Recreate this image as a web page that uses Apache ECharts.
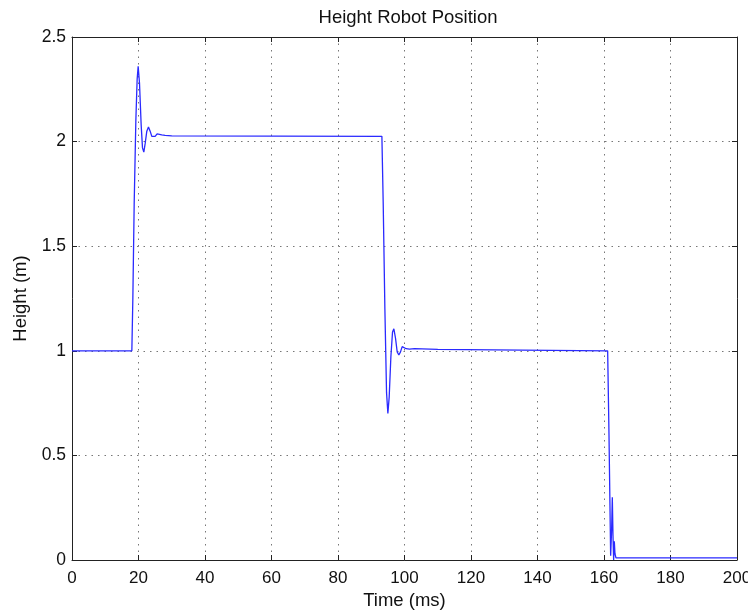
<!DOCTYPE html>
<html>
<head>
<meta charset="utf-8">
<script src="https://cdn.jsdelivr.net/npm/echarts@6/dist/echarts.min.js"></script>
<style>html,body{margin:0;padding:0;background:#fff;}#c{width:748px;height:612px;}</style>
</head>
<body>
<div id="c"></div>
<script>
// Time samples (ms)
var timeMs = [0, 18, 18.3, 18.7, 19.2, 19.6, 19.9, 20.3, 20.8, 21.2, 21.6, 22.0, 22.5, 23.0, 23.5, 24.0, 24.5, 25.0, 25.6, 26.2, 27, 28, 30,
  93.2, 93.6, 94.1, 94.6, 95.0, 95.4, 95.9, 96.4, 96.8, 97.3, 97.8, 98.3, 98.8, 99.3, 99.9, 100.5, 101.5, 103, 110,
  161.1, 161.5, 162.0, 162.3, 162.5, 162.7, 162.9, 163.1, 163.3, 163.6, 165, 200];
// Height values (m)
var heightM = [1.0, 1.0, 1.25, 1.7, 2.1, 2.3, 2.36, 2.28, 2.08, 1.97, 1.95, 1.99, 2.05, 2.07, 2.05, 2.025, 2.018, 2.025, 2.037, 2.038, 2.032, 2.03, 2.027,
  2.025, 1.7, 1.2, 0.8, 0.70, 0.78, 0.97, 1.09, 1.105, 1.06, 0.995, 0.98, 0.995, 1.02, 1.018, 1.01, 1.008, 1.01, 1.007,
  1.0, 0.6, 0.02, 0.15, 0.30, 0.12, 0.0, 0.09, 0.03, 0.01, 0.01, 0.01];
var xTicks = {min: 0, max: 200, interval: 20};
var yTicks = {min: 0, max: 2.5, interval: 0.5};
var titleText = 'Height Robot Position';
var xName = 'Time (ms)';
var yName = 'Height (m)';

var data = timeMs.map(function (t, i) { return [t, heightM[i]]; });
var font = 'Liberation Sans, Arial, sans-serif';
var chart = echarts.init(document.getElementById('c'), null, {renderer: 'canvas'});
var gridDot = {show: true, lineStyle: {color: '#777', type: [1.5, 5], width: 1}};
chart.setOption({
  animation: false,
  backgroundColor: '#fff',
  title: {text: titleText, left: 403, top: 3, textAlign: 'center',
    textStyle: {fontFamily: font, fontSize: 18.5, fontWeight: 'normal', color: '#111'}},
  grid: {left: 72, right: 11, top: 37, bottom: 52, containLabel: false, outerBoundsMode: 'none'},
  xAxis: [{
    type: 'value', min: xTicks.min, max: xTicks.max, interval: xTicks.interval,
    position: 'bottom',
    name: xName, nameLocation: 'middle', nameGap: 31,
    nameTextStyle: {fontFamily: font, fontSize: 18.5, color: '#111'},
    axisLine: {show: true, onZero: false, lineStyle: {color: '#222', width: 1}},
    axisTick: {show: true, inside: true, length: 5, lineStyle: {color: '#222'}},
    axisLabel: {fontFamily: font, fontSize: 17, color: '#111', margin: 10},
    splitLine: gridDot
  }, {
    type: 'value', min: xTicks.min, max: xTicks.max, interval: xTicks.interval,
    position: 'top',
    axisLine: {show: true, onZero: false, lineStyle: {color: '#222', width: 1}},
    axisTick: {show: true, inside: true, length: 5, lineStyle: {color: '#222'}},
    axisLabel: {show: false}, splitLine: {show: false}
  }],
  yAxis: [{
    type: 'value', min: yTicks.min, max: yTicks.max, interval: yTicks.interval,
    position: 'left',
    name: yName, nameLocation: 'middle', nameGap: 40,
    nameTextStyle: {fontFamily: font, fontSize: 18.5, color: '#111'},
    axisLine: {show: true, onZero: false, lineStyle: {color: '#222', width: 1}},
    axisTick: {show: true, inside: true, length: 5, lineStyle: {color: '#222'}},
    axisLabel: {fontFamily: font, fontSize: 17.5, color: '#111', margin: 6},
    splitLine: gridDot
  }, {
    type: 'value', min: yTicks.min, max: yTicks.max, interval: yTicks.interval,
    position: 'right',
    axisLine: {show: true, onZero: false, lineStyle: {color: '#222', width: 1}},
    axisTick: {show: true, inside: true, length: 5, lineStyle: {color: '#222'}},
    axisLabel: {show: false}, splitLine: {show: false}
  }],
  series: [{
    type: 'line', data: data, xAxisIndex: 0, yAxisIndex: 0,
    showSymbol: false, smooth: false,
    lineStyle: {color: '#2a2aff', width: 1.3}
  }]
});
</script>
</body>
</html>
